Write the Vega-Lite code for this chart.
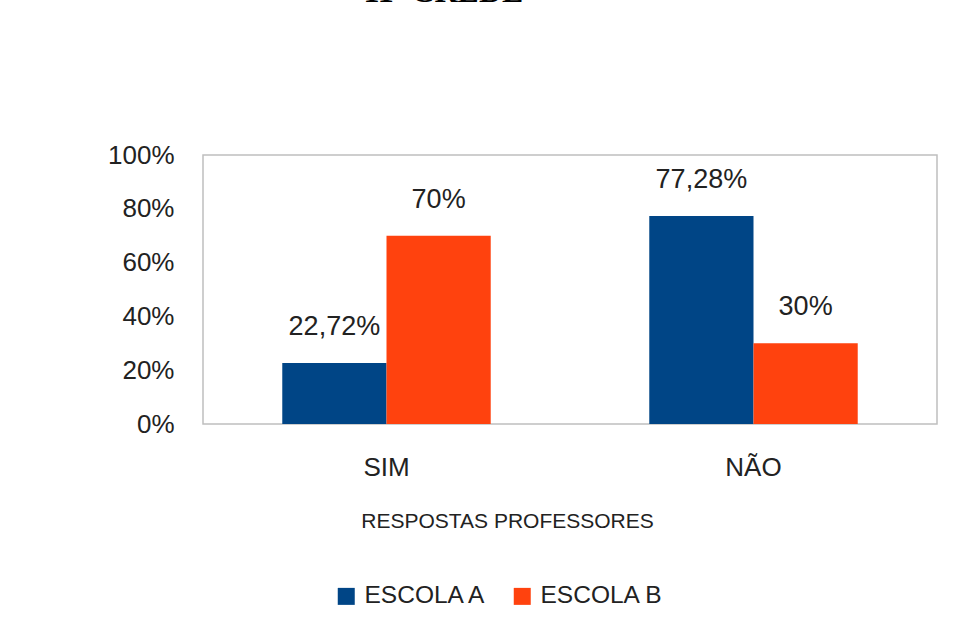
{
  "$schema": "https://vega.github.io/schema/vega-lite/v6.json",
  "autosize": {"type": "none"},
  "width": 734,
  "height": 269,
  "padding": {"left": 203, "top": 155, "right": 22, "bottom": 208},
  "background": "white",
  "title": {
    "text": "11ª CREDE",
    "font": "Liberation Serif",
    "fontWeight": "bold",
    "fontSize": 32,
    "color": "#000000",
    "anchor": "start",
    "baseline": "alphabetic",
    "dx": 256,
    "offset": 108
  },
  "config": {
    "locale": {"number": {"decimal": ",", "thousands": ".", "grouping": [3], "currency": ["R$", ""]}},
    "view": {"stroke": "#bfbfbf", "strokeWidth": 1.5},
    "font": "Liberation Sans"
  },
  "data": {
    "values": [
      {"resposta": "SIM", "escola": "ESCOLA A", "valor": 0.2272},
      {"resposta": "SIM", "escola": "ESCOLA B", "valor": 0.70},
      {"resposta": "NÃO", "escola": "ESCOLA A", "valor": 0.7728},
      {"resposta": "NÃO", "escola": "ESCOLA B", "valor": 0.30}
    ]
  },
  "encoding": {
    "x": {
      "field": "resposta",
      "type": "nominal",
      "sort": ["SIM", "NÃO"],
      "scale": {"paddingInner": 0.432, "paddingOuter": 0.216},
      "axis": {
        "title": "RESPOSTAS PROFESSORES",
        "titleFont": "Liberation Sans",
        "titleFontSize": 21,
        "titleFontWeight": "normal",
        "titleColor": "#222222",
        "titlePadding": 30,
        "titleX": 304,
        "labelAngle": 0,
        "labelFontSize": 26,
        "labelColor": "#222222",
        "labelPadding": 30,
        "domain": false,
        "ticks": false,
        "grid": false
      }
    },
    "xOffset": {"field": "escola", "type": "nominal", "scale": {"paddingInner": 0, "paddingOuter": 0}},
    "y": {
      "field": "valor",
      "type": "quantitative",
      "scale": {"domain": [0, 1]},
      "axis": {
        "title": null,
        "format": "%",
        "values": [0, 0.2, 0.4, 0.6, 0.8, 1],
        "labelFontSize": 26,
        "labelColor": "#222222",
        "labelPadding": 29,
        "domain": false,
        "ticks": false,
        "grid": false
      }
    }
  },
  "layer": [
    {
      "mark": {"type": "bar"},
      "encoding": {
        "color": {
          "field": "escola",
          "type": "nominal",
          "scale": {"domain": ["ESCOLA A", "ESCOLA B"], "range": ["#004586", "#ff420e"]},
          "legend": {
            "title": null,
            "orient": "none",
            "direction": "horizontal",
            "legendX": 131,
            "legendY": 429,
            "symbolType": "square",
            "symbolSize": 289,
            "symbolStrokeWidth": 0,
            "labelFontSize": 24.5,
            "labelColor": "#222222",
            "labelOffset": 6,
            "columnPadding": 22
          }
        }
      }
    },
    {
      "mark": {"type": "text", "baseline": "bottom", "dy": -22, "fontSize": 27, "color": "#222222"},
      "encoding": {
        "text": {"field": "valor", "type": "quantitative", "format": ".2~%"}
      }
    }
  ]
}
